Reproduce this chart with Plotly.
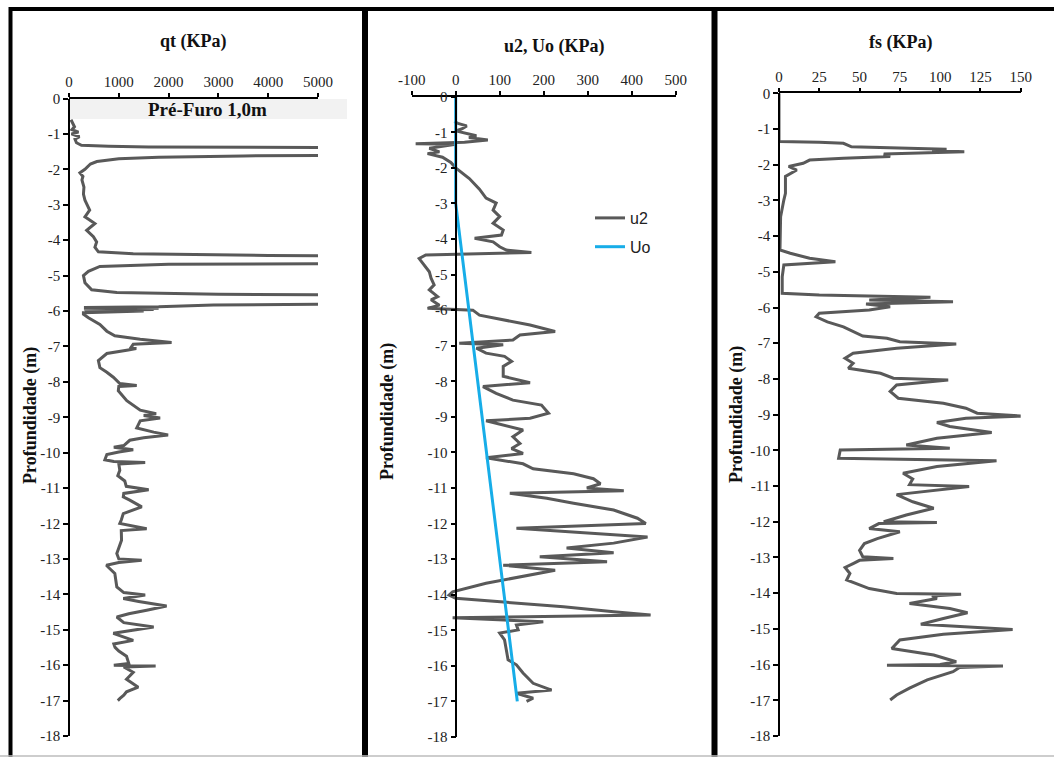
import plotly.graph_objects as go

# ---- CPTu profile data (depth in m, negative downwards) ----
qt_depth = [-0.60, -0.70, -0.80, -0.88, -0.95, -1.00, -1.08, -1.15, -1.25, -1.32, -1.35, -1.37,
            -1.40, -1.58, -1.62, -1.66, -1.70, -1.78, -1.85, -2.00, -2.10, -2.20, -2.30, -2.50,
            -2.70, -2.87, -3.15, -3.34, -3.53, -3.72, -3.90, -4.05, -4.20, -4.33, -4.38, -4.43,
            -4.48, -4.64, -4.68, -4.74, -4.88, -5.00, -5.20, -5.40, -5.48, -5.53, -5.57, -5.78,
            -5.83, -5.88, -5.90, -5.92, -5.94, -5.96, -5.98, -6.00, -6.05, -6.09, -6.19, -6.38,
            -6.57, -6.70, -6.80, -6.89, -6.94, -7.02, -7.06, -7.10, -7.20, -7.40, -7.60, -7.73,
            -7.87, -8.05, -8.10, -8.13, -8.25, -8.53, -8.80, -8.90, -8.95, -9.02, -9.10, -9.30,
            -9.42, -9.50, -9.58, -9.65, -9.80, -9.85, -9.92, -9.98, -10.05, -10.20, -10.25, -10.28,
            -10.32, -10.50, -10.65, -10.80, -10.95, -11.05, -11.15, -11.25, -11.34, -11.53, -11.72, -11.90,
            -12.00, -12.15, -12.20, -12.47, -12.70, -12.85, -13.00, -13.04, -13.10, -13.18, -13.25, -13.41,
            -13.79, -13.95, -14.02, -14.12, -14.20, -14.26, -14.33, -14.45, -14.55, -14.64, -14.80, -14.92,
            -15.05, -15.10, -15.30, -15.40, -15.50, -15.60, -15.75, -15.95, -16.00, -16.02, -16.05, -16.20,
            -16.40, -16.55, -16.62, -16.75, -16.85, -16.94, -17.00]
qt_kpa = [40, 80, 110, 60, 190, 50, 210, 120, 150, 250, 800, 1600,
          9000, 9000, 3500, 1800, 1000, 560, 430, 320, 220, 280, 260, 300,
          290, 320, 415, 320, 520, 355, 490, 555, 520, 590, 1290, 4000,
          9000, 9000, 2000, 620, 390, 290, 320, 455, 960, 3000, 9000, 9000,
          2900, 1800, 300, 1800, 300, 1700, 320, 1500, 290, 290, 390, 620,
          760, 920, 1430, 2060, 1290, 1250, 1350, 1190, 760, 590, 620, 760,
          890, 1020, 1360, 1000, 990, 1160, 1430, 1750, 1500, 1830, 1430, 1360,
          1700, 1990, 1500, 1220, 1100, 900, 1290, 1000, 760, 720, 900, 1530,
          1000, 1020, 980, 1120, 1150, 1600, 1100, 1090, 1220, 1460, 1090, 1050,
          1020, 1560, 1050, 1055, 1000, 960, 1000, 1460, 1000, 750, 800, 920,
          960, 1100, 1530, 1090, 1400, 1700, 1960, 1560, 1200, 960, 1100, 1700,
          1100, 890, 1290, 900, 925, 1000, 1155, 1200, 900, 1740, 1100, 1290,
          1155, 1300, 1390, 1155, 1100, 1024, 980]

u2_depth = [-0.70, -0.75, -0.82, -0.90, -0.96, -1.05, -1.10, -1.15, -1.22, -1.28, -1.32, -1.34,
            -1.40, -1.45, -1.55, -1.60, -1.70, -1.85, -2.00, -2.30, -2.60, -2.85, -2.99, -3.19,
            -3.37, -3.56, -3.75, -3.89, -3.98, -4.08, -4.22, -4.31, -4.38, -4.42, -4.45, -4.55,
            -4.73, -4.92, -5.10, -5.29, -5.43, -5.62, -5.71, -5.80, -5.86, -5.95, -6.00, -6.14,
            -6.28, -6.42, -6.60, -6.70, -6.84, -6.93, -6.97, -7.07, -7.21, -7.30, -7.44, -7.58,
            -7.86, -8.04, -8.15, -8.34, -8.53, -8.67, -8.90, -9.04, -9.11, -9.23, -9.37, -9.56,
            -9.75, -9.89, -10.03, -10.15, -10.32, -10.46, -10.60, -10.74, -10.88, -11.00, -11.08, -11.15,
            -11.29, -11.43, -11.62, -11.85, -12.00, -12.13, -12.27, -12.38, -12.55, -12.69, -12.82, -12.93,
            -13.07, -13.17, -13.31, -13.50, -13.68, -13.92, -14.01, -14.10, -14.20, -14.34, -14.48, -14.57,
            -14.65, -14.76, -14.85, -14.99, -15.08, -15.27, -15.55, -15.83, -15.97, -16.20, -16.49, -16.68,
            -16.77, -16.91, -17.00]
u2_kpa = [-3, 5, 25, 15, 0, 30, 47, 30, 73, 20, -91, 0,
          -40, -60, -37, -64, -30, -11, 0, 31, 54, 69, 92, 85,
          100, 85, 108, 104, 43, 85, 100, 115, 172, 0, -68, -83,
          -72, -60, -56, -49, -60, -41, -56, -45, -37, -64, 39, 54,
          108, 169, 226, 146, 130, 8, 108, 47, 69, 111, 127, 108,
          108, 169, 62, 92, 130, 195, 211, 169, 69, 108, 153, 130,
          146, 127, 153, 69, 153, 176, 268, 313, 329, 298, 382, 123,
          207, 268, 359, 413, 432, 138, 313, 436, 359, 252, 359, 191,
          344, 108, 226, 146, 69, -7, -15, 0, 100, 245, 359, 443,
          -7, 199, 138, 142, 100, 111, 115, 119, 138, 153, 176, 218,
          138, 176, 161]

# hydrostatic pore pressure, water table at 3 m
uo_depth = [0.0, -3.0, -17.0]
uo_kpa = [0, 0, 140]

fs_depth = [0.00, -1.35, -1.37, -1.40, -1.50, -1.57, -1.60, -1.64, -1.70, -1.77, -1.82, -1.87,
            -1.96, -2.05, -2.15, -2.33, -2.80, -2.99, -3.46, -4.39, -4.48, -4.62, -4.72, -4.81,
            -5.14, -5.60, -5.65, -5.71, -5.79, -5.84, -5.90, -5.98, -6.07, -6.16, -6.26, -6.40,
            -6.54, -6.68, -6.80, -6.86, -6.96, -7.02, -7.14, -7.28, -7.42, -7.56, -7.70, -7.84,
            -7.98, -8.03, -8.17, -8.35, -8.54, -8.68, -8.82, -8.96, -9.04, -9.10, -9.22, -9.33,
            -9.50, -9.66, -9.85, -9.94, -9.99, -10.22, -10.29, -10.45, -10.64, -10.80, -10.96, -11.01,
            -11.24, -11.44, -11.62, -11.81, -12.00, -12.02, -12.05, -12.19, -12.28, -12.47, -12.61, -12.80,
            -12.98, -13.03, -13.08, -13.17, -13.28, -13.45, -13.63, -13.87, -14.01, -14.03, -14.08, -14.15,
            -14.29, -14.43, -14.55, -14.71, -14.87, -15.02, -15.15, -15.31, -15.55, -15.73, -15.92, -16.00,
            -16.02, -16.04, -16.08, -16.20, -16.43, -16.66, -16.85, -16.99]
fs_kpa = [0, 0, 25, 40, 45, 104, 95, 115, 65, 69, 40, 19,
          15, 6, 11, 4, 4, 3, 1, 0.6, 7, 19, 35, 3,
          2, 2, 25, 94, 56, 108, 54, 69, 56, 25, 23, 30,
          40, 46, 52, 67, 75, 110, 73, 46, 41, 46, 43, 63,
          71, 105, 73, 69, 74, 102, 116, 123, 151, 116, 98, 106,
          132, 98, 79, 106, 38, 37, 135, 98, 77, 83, 81, 118,
          73, 83, 96, 79, 65, 98, 62, 56, 75, 61, 53, 50,
          52, 71, 50, 46, 41, 44, 42, 56, 73, 113, 95, 98,
          81, 106, 117, 102, 88, 145, 102, 75, 70, 96, 110, 100,
          67, 139, 112, 108, 92, 81, 73, 69]

# ---- axis ticks ----
depth_ticks = list(range(0, -19, -1))
depth_labels = ["0"] + [f"-{d}" for d in range(1, 19)]
qt_ticks = [0, 1000, 2000, 3000, 4000, 5000]
u_ticks = [-100, 0, 100, 200, 300, 400, 500]
u_labels = ["-100", "0", "100", "200", "300", "400", "500"]
fs_ticks = [0, 25, 50, 75, 100, 125, 150]

W, H = 1054, 757
GREY = "#595959"
BLUE = "#17ADE8"
SERIF = "Liberation Serif"


def px(x):
    return x / W


def py(y):
    return 1 - y / H


fig = go.Figure()
fig.add_trace(go.Scatter(x=qt_kpa, y=qt_depth, mode="lines", xaxis="x", yaxis="y",
                         line=dict(color=GREY, width=3), showlegend=False))
fig.add_trace(go.Scatter(x=u2_kpa, y=u2_depth, mode="lines", xaxis="x2", yaxis="y2",
                         name="u2", legendgroup="u2", line=dict(color=GREY, width=3)))
fig.add_trace(go.Scatter(x=uo_kpa, y=uo_depth, mode="lines", xaxis="x2", yaxis="y2",
                         name="Uo", legendgroup="uo", line=dict(color=BLUE, width=3)))
fig.add_trace(go.Scatter(x=fs_kpa, y=fs_depth, mode="lines", xaxis="x3", yaxis="y3",
                         line=dict(color=GREY, width=3), showlegend=False))

tickfont = dict(family=SERIF, size=15, color="#222")


def xaxis(dom, rng, ticks, labels, ydom_anchor):
    return dict(domain=[px(dom[0]), px(dom[1])], range=rng, side="top", anchor=ydom_anchor,
                tickvals=ticks, ticktext=labels, showline=True, linecolor="black", linewidth=1.5,
                ticks="outside", ticklen=4, tickwidth=1.5, tickcolor="black", showgrid=False,
                zeroline=False, tickfont=tickfont, fixedrange=True, automargin=False)


def yaxis(top, bottom, pos):
    return dict(domain=[py(bottom), py(top)], range=[-18, 0], anchor="free", position=px(pos),
                tickvals=depth_ticks, ticktext=depth_labels, showline=True, linecolor="black",
                linewidth=1.5, ticks="outside", ticklen=5, tickwidth=1.5, tickcolor="black",
                showgrid=False, zeroline=False, tickfont=tickfont, fixedrange=True,
                automargin=False)


fig.update_layout(
    width=W, height=H, autosize=False,
    margin=dict(l=0, r=0, t=0, b=0, pad=0, autoexpand=False),
    paper_bgcolor="white", plot_bgcolor="rgba(0,0,0,0)",
    xaxis=xaxis((69, 318), [0, 5000], qt_ticks, [str(t) for t in qt_ticks], "y"),
    yaxis=yaxis(98.5, 736, 69),
    xaxis2=xaxis((411.7, 675.7), [-100, 500], u_ticks, u_labels, "y2"),
    yaxis2=yaxis(96.7, 737, 456.3),
    xaxis3=xaxis((779, 1020.7), [0, 150], fs_ticks, [str(t) for t in fs_ticks], "y3"),
    yaxis3=yaxis(93.3, 736, 779),
    legend=dict(x=px(590), y=py(201), xanchor="left", yanchor="top",
                font=dict(family="Liberation Sans", size=16, color="#222"),
                bgcolor="rgba(0,0,0,0)", tracegroupgap=5),
)

shapes = []
# pre-drilled zone band
shapes.append(dict(type="rect", xref="paper", yref="paper", x0=px(69), x1=px(347),
                   y0=py(119), y1=py(99), fillcolor="#F2F2F2", line=dict(width=0), layer="below"))
# panel frames
shapes.append(dict(type="line", xref="paper", yref="paper", x0=px(9), x1=1, y0=py(9), y1=py(9),
                   line=dict(color="black", width=4)))
for xv, wd in [(10.5, 4), (365, 6), (714.5, 6)]:
    shapes.append(dict(type="line", xref="paper", yref="paper", x0=px(xv), x1=px(xv),
                       y0=py(7), y1=0, line=dict(color="black", width=wd)))
shapes.append(dict(type="line", xref="paper", yref="paper", x0=0, x1=1, y0=py(756), y1=py(756),
                   line=dict(color="#BDBDBD", width=1.5)))
fig.update_layout(shapes=shapes)

ann = []
titles = [("qt (KPa)", 193, 42), ("u2, Uo (KPa)", 554, 47), ("fs (KPa)", 900, 43)]
for txt, x, y in titles:
    ann.append(dict(text=f"<b>{txt}</b>", x=px(x), y=py(y), xref="paper", yref="paper",
                    showarrow=False, xanchor="center", yanchor="middle",
                    font=dict(family=SERIF, size=18, color="#111")))
for x, y in [(30, 416), (387, 412), (736, 415)]:
    ann.append(dict(text="<b>Profundidade (m)</b>", x=px(x), y=py(y), xref="paper", yref="paper",
                    showarrow=False, textangle=-90, xanchor="center", yanchor="middle",
                    font=dict(family=SERIF, size=18, color="#111")))
ann.append(dict(text="<b>Pré-Furo 1,0m</b>", x=px(207), y=py(110), xref="paper", yref="paper",
                showarrow=False, xanchor="center", yanchor="middle",
                font=dict(family=SERIF, size=19, color="#111")))
fig.update_layout(annotations=ann)

fig.write_html("out.html")
